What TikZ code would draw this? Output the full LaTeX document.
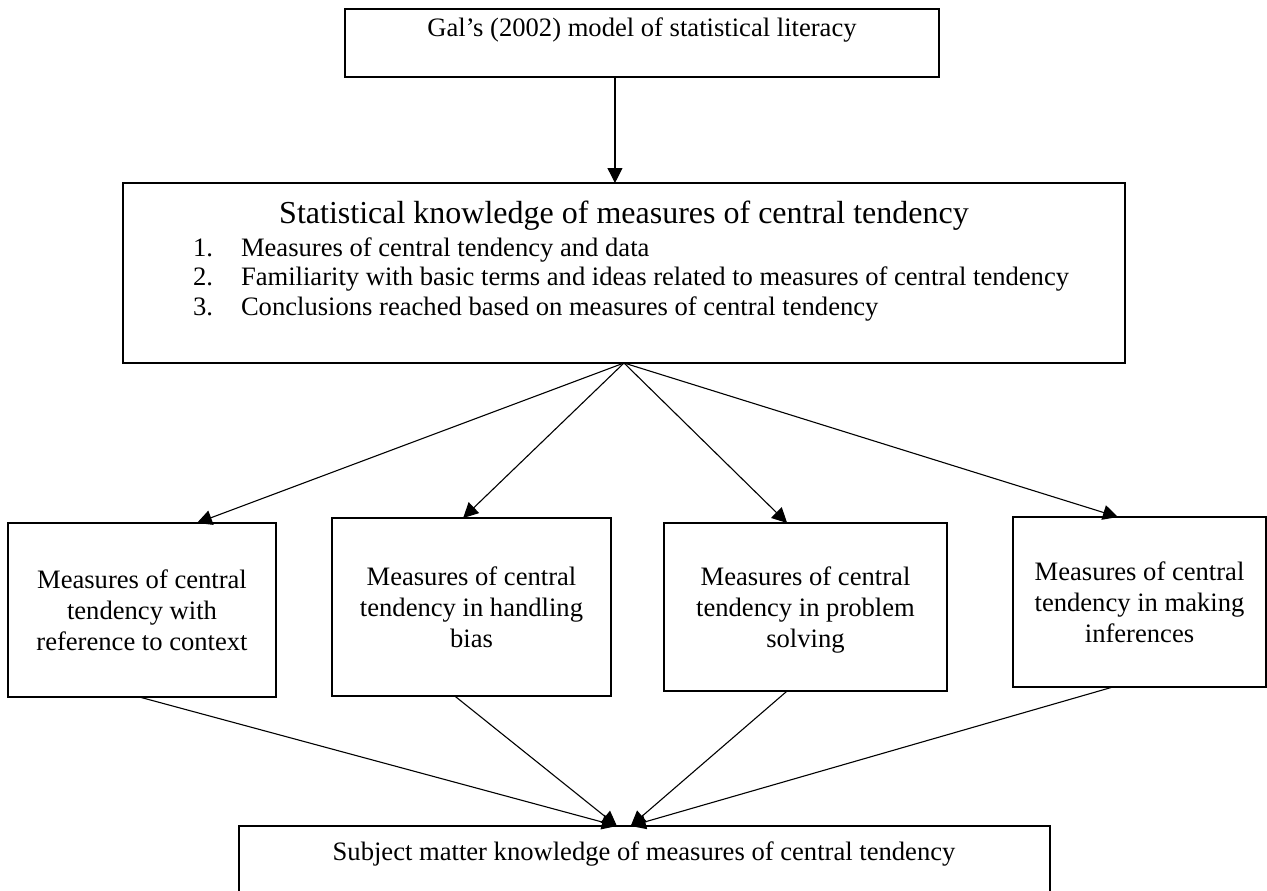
\documentclass[tikz,border=0pt]{standalone}
\usepackage{fontspec}
\setmainfont{Liberation Serif}
\usetikzlibrary{arrows.meta,calc}
\begin{document}
\begin{tikzpicture}[x=1pt,y=-1pt,
  box/.style={draw,line width=1.7pt,rectangle,inner sep=0pt,outer sep=0pt,anchor=north west},
  txt/.style={font=\fontsize{26.6}{31}\selectfont,inner sep=0pt,outer sep=0pt},
  child/.style={box,align=center,font=\fontsize{26.6}{31}\selectfont,text depth=0pt},
  arr/.style={-{Triangle[length=15pt,width=15pt]},line width=1.1pt}]
\useasboundingbox (0,0) rectangle (1267,891);
\clip (0,0) rectangle (1267,891);
% top box
\node[box,minimum width=594pt,minimum height=68pt] (top) at (345,9) {};
\node[txt,anchor=base] (toptext) at (642,37) {Gal’s (2002) model of statistical literacy};
% big box
\node[box,minimum width=1002pt,minimum height=180pt] (big) at (123,183) {};
\node[txt,font=\fontsize{32}{36}\selectfont,anchor=base] (title) at (624,223) {Statistical knowledge of measures of central tendency};
\node[txt,anchor=base west] (n1) at (193,256) {1.};
\node[txt,anchor=base west] (i1) at (241,256) {Measures of central tendency and data};
\node[txt,anchor=base west] (n2) at (193,285) {2.};
\node[txt,anchor=base west] (i2) at (241,285) {Familiarity with basic terms and ideas related to measures of central tendency};
\node[txt,anchor=base west] (n3) at (193,315) {3.};
\node[txt,anchor=base west] (i3) at (241,315) {Conclusions reached based on measures of central tendency};
% child boxes
\node[child,minimum width=268pt,minimum height=174pt] (c1) at (8,523) {Measures of central\\tendency with\\reference to context};
\node[child,minimum width=279pt,minimum height=178pt] (c2) at (332,518) {Measures of central\\tendency in handling\\bias};
\node[child,minimum width=283pt,minimum height=168pt] (c3) at (664,523) {Measures of central\\tendency in problem\\solving};
\node[child,minimum width=253pt,minimum height=170pt] (c4) at (1013,517) {Measures of central\\tendency in making\\inferences};
% bottom box
\node[box,minimum width=811pt,minimum height=100pt] (bot) at (239,826) {};
\node[txt,anchor=base] (bottext) at (644,860) {Subject matter knowledge of measures of central tendency};
% connectors
\coordinate (a0) at ($(top.south west)!0.4545!(top.south east)$);
\draw[arr] (a0) -- (a0 |- big.north);
\draw[arr] (big.south) -- ($(c1.north west)!0.705!(c1.north east)$);
\draw[arr] (big.south) -- ($(c2.north west)!0.47!(c2.north east)$);
\draw[arr] (big.south) -- ($(c3.north west)!0.435!(c3.north east)$);
\draw[arr] (big.south) -- ($(c4.north west)!0.415!(c4.north east)$);
\draw[arr] ($(c1.south west)!0.49!(c1.south east)$) -- ($(bot.north west)!0.466!(bot.north east)$);
\draw[arr] ($(c2.south west)!0.44!(c2.south east)$) -- ($(bot.north west)!0.466!(bot.north east)$);
\draw[arr] ($(c3.south west)!0.435!(c3.south east)$) -- ($(bot.north west)!0.483!(bot.north east)$);
\draw[arr] ($(c4.south west)!0.395!(c4.south east)$) -- ($(bot.north west)!0.483!(bot.north east)$);
\end{tikzpicture}
\end{document}
